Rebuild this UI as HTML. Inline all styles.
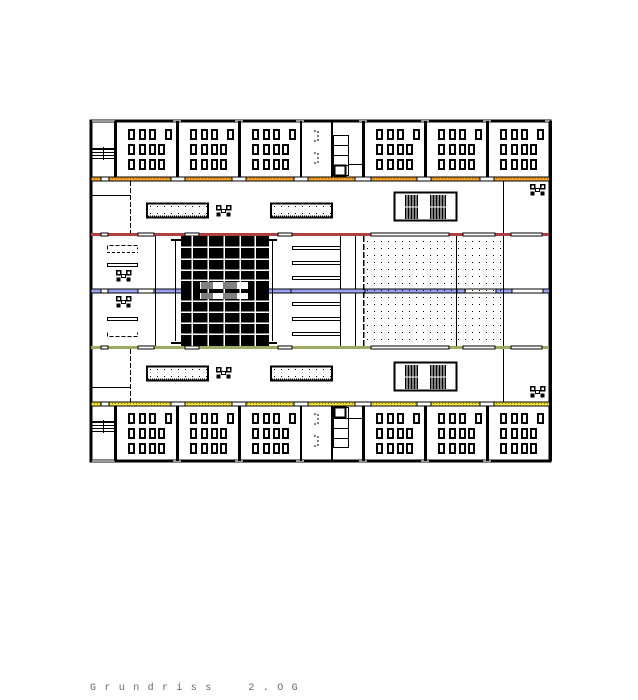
<!DOCTYPE html>
<html><head><meta charset="utf-8"><style>
html,body{margin:0;padding:0;background:#fff;width:638px;height:700px;overflow:hidden}
svg{position:absolute;left:0;top:0}
.t{position:absolute;left:90px;top:683px;font-family:"Liberation Mono",monospace;font-size:10px;color:#666;letter-spacing:8.4px;white-space:pre}
</style></head><body>
<svg width="638" height="700" viewBox="0 0 638 700" shape-rendering="crispEdges">
<defs>
<pattern id="dots" width="7" height="7" patternUnits="userSpaceOnUse"><rect x="3" y="3" width="1" height="1" fill="#000"/></pattern>
<pattern id="od" width="3" height="3" patternUnits="userSpaceOnUse"><rect width="3" height="3" fill="#f2a531"/><rect x="1" y="1" width="1" height="1" fill="#b06000"/></pattern>
<pattern id="yd" width="3" height="3" patternUnits="userSpaceOnUse"><rect width="3" height="3" fill="#f5e63a"/><rect x="1" y="1" width="1" height="1" fill="#907000"/></pattern>
<g id="desk"><rect x="1" y="1" width="5" height="9" fill="#fff" stroke="#000" stroke-width="2"/><rect x="0" y="2" width="2" height="7" fill="#000"/></g>
<g id="room">
<use href="#desk" x="12" y="8"/><use href="#desk" x="23" y="8"/><use href="#desk" x="33" y="8"/><use href="#desk" x="49" y="8"/>
<use href="#desk" x="12" y="23"/><use href="#desk" x="23" y="23"/><use href="#desk" x="33" y="23"/><use href="#desk" x="42" y="23"/>
<use href="#desk" x="12" y="38"/><use href="#desk" x="23" y="38"/><use href="#desk" x="33" y="38"/><use href="#desk" x="42" y="38"/>
</g>
<g id="chairs"><rect x="0.5" y="0.5" width="4" height="4" fill="#fff" stroke="#000" stroke-width="1.5"/><rect x="10.5" y="0.5" width="4" height="4" fill="#fff" stroke="#000" stroke-width="1.5"/><rect x="5.5" y="4.5" width="4" height="3" fill="#fff" stroke="#000"/><rect x="0.5" y="7.5" width="4" height="4" fill="#000"/><rect x="10.5" y="7.5" width="4" height="4" fill="#000"/></g>
<g id="planter"><rect x="147" y="0.5" width="61" height="14" fill="url(#dots)" stroke="#000" stroke-width="2"/><line x1="148" y1="13" x2="207" y2="13" stroke="#000" stroke-dasharray="1 1"/></g>
<g id="stair"><rect x="394.5" y="0.5" width="62" height="28" fill="#fff" stroke="#000" stroke-width="2"/><rect x="405" y="3" width="13" height="24" fill="#000"/><rect x="430" y="3" width="16" height="24" fill="#000"/>
<g stroke="#fff" stroke-width="1"><line x1="407" y1="3" x2="407" y2="27"/><line x1="410" y1="3" x2="410" y2="27"/><line x1="413" y1="3" x2="413" y2="27"/><line x1="416" y1="3" x2="416" y2="27"/><line x1="432" y1="3" x2="432" y2="27"/><line x1="435" y1="3" x2="435" y2="27"/><line x1="438" y1="3" x2="438" y2="27"/><line x1="441" y1="3" x2="441" y2="27"/><line x1="444" y1="3" x2="444" y2="27"/><line x1="405" y1="15" x2="446" y2="15"/></g></g>
</defs>

<rect x="91" y="121" width="459" height="340" fill="#fff" stroke="#000" stroke-width="3"/>
<g fill="#999"><rect x="92" y="120" width="23" height="2"/><rect x="173" y="120" width="8" height="2"/><rect x="235" y="120" width="8" height="2"/><rect x="296" y="120" width="8" height="2"/><rect x="359" y="120" width="8" height="2"/><rect x="421" y="120" width="8" height="2"/><rect x="483" y="120" width="8" height="2"/><rect x="545" y="120" width="5" height="2"/>
<rect x="92" y="460" width="23" height="2"/><rect x="173" y="460" width="8" height="2"/><rect x="235" y="460" width="8" height="2"/><rect x="296" y="460" width="8" height="2"/><rect x="359" y="460" width="8" height="2"/><rect x="421" y="460" width="8" height="2"/><rect x="483" y="460" width="8" height="2"/></g>

<g fill="#000">
<rect x="114" y="121" width="3" height="56"/><rect x="176" y="121" width="3" height="56"/><rect x="238" y="121" width="3" height="56"/><rect x="300" y="121" width="2" height="56"/><rect x="331" y="121" width="2" height="56"/><rect x="362" y="121" width="3" height="56"/><rect x="424" y="121" width="3" height="56"/><rect x="486" y="121" width="3" height="56"/>
<rect x="114" y="405" width="3" height="56"/><rect x="176" y="405" width="3" height="56"/><rect x="238" y="405" width="3" height="56"/><rect x="300" y="405" width="2" height="56"/><rect x="331" y="405" width="2" height="56"/><rect x="362" y="405" width="3" height="56"/><rect x="424" y="405" width="3" height="56"/><rect x="486" y="405" width="3" height="56"/>
</g>
<use href="#room" x="116" y="121"/><use href="#room" x="178" y="121"/><use href="#room" x="240" y="121"/><use href="#room" x="364" y="121"/><use href="#room" x="426" y="121"/><use href="#room" x="488" y="121"/>
<use href="#room" x="116" y="405"/><use href="#room" x="178" y="405"/><use href="#room" x="240" y="405"/><use href="#room" x="364" y="405"/><use href="#room" x="426" y="405"/><use href="#room" x="488" y="405"/>
<g fill="#000"><rect x="92" y="148" width="22" height="2"/><rect x="92" y="152" width="22" height="1"/><rect x="92" y="155" width="22" height="1"/><rect x="92" y="158" width="22" height="1"/><rect x="103" y="147" width="1" height="13"/>
<rect x="92" y="421" width="22" height="2"/><rect x="92" y="425" width="22" height="1"/><rect x="92" y="428" width="22" height="1"/><rect x="92" y="431" width="22" height="1"/><rect x="103" y="420" width="1" height="13"/></g>
<g fill="none" stroke="#000"><rect x="333.5" y="135.5" width="15" height="40"/><line x1="333" y1="145.5" x2="348" y2="145.5"/><line x1="333" y1="155.5" x2="348" y2="155.5"/><line x1="333" y1="165.5" x2="348" y2="165.5"/><line x1="348" y1="164.5" x2="362" y2="164.5"/>
<rect x="333.5" y="407.5" width="15" height="40"/><line x1="333" y1="418.5" x2="348" y2="418.5"/><line x1="333" y1="428.5" x2="348" y2="428.5"/><line x1="333" y1="438.5" x2="348" y2="438.5"/><line x1="348" y1="418.5" x2="362" y2="418.5"/></g>
<rect x="334.5" y="165.5" width="11" height="10" fill="#fff" stroke="#000" stroke-width="2"/><rect x="334.5" y="407.5" width="11" height="10" fill="#fff" stroke="#000" stroke-width="2"/>
<g fill="none" stroke="#000" stroke-dasharray="2 2"><path d="M314 131h4v10h-4M314 153h4v10h-4M314 414h4v10h-4M314 436h4v10h-4"/></g>

<rect x="91" y="177" width="459" height="4" fill="url(#od)" stroke="#000" stroke-width="0.6"/>
<rect x="91" y="402" width="459" height="4" fill="url(#yd)" stroke="#000" stroke-width="0.6"/>
<rect x="91" y="233" width="459" height="3" fill="#b04040"/>
<rect x="91" y="289" width="459" height="4" fill="#9aa3f0" stroke="#000" stroke-width="0.6"/>
<rect x="91" y="346" width="459" height="3" fill="#9aab62"/>
<g fill="#fff" stroke="#000" stroke-width="0.6">
<rect x="101" y="177" width="8" height="4"/><rect x="171" y="177" width="14" height="4"/><rect x="232" y="177" width="14" height="4"/><rect x="294" y="177" width="14" height="4"/><rect x="355" y="177" width="16" height="4"/><rect x="417" y="177" width="14" height="4"/><rect x="480" y="177" width="14" height="4"/>
<rect x="101" y="402" width="8" height="4"/><rect x="171" y="402" width="14" height="4"/><rect x="232" y="402" width="14" height="4"/><rect x="294" y="402" width="14" height="4"/><rect x="355" y="402" width="16" height="4"/><rect x="417" y="402" width="14" height="4"/><rect x="480" y="402" width="14" height="4"/>
<rect x="101" y="233" width="7" height="3"/><rect x="138" y="233" width="16" height="3"/><rect x="185" y="233" width="14" height="3"/><rect x="278" y="233" width="14" height="3"/><rect x="371" y="233" width="78" height="3"/><rect x="463" y="233" width="32" height="3"/><rect x="511" y="233" width="31" height="3"/>
<rect x="101" y="346" width="7" height="3"/><rect x="138" y="346" width="16" height="3"/><rect x="185" y="346" width="14" height="3"/><rect x="278" y="346" width="14" height="3"/><rect x="371" y="346" width="78" height="3"/><rect x="463" y="346" width="32" height="3"/><rect x="511" y="346" width="31" height="3"/>
<rect x="101" y="289" width="7" height="4"/><rect x="138" y="289" width="16" height="4"/><rect x="185" y="289" width="14" height="4"/><rect x="465" y="289" width="31" height="4"/><rect x="512" y="289" width="31" height="4"/>
</g>

<g stroke="#000" fill="none">
<line x1="130.5" y1="181" x2="130.5" y2="233" stroke-dasharray="5 2"/><line x1="92" y1="195.5" x2="130" y2="195.5"/>
<line x1="130.5" y1="349" x2="130.5" y2="402" stroke-dasharray="5 2"/><line x1="92" y1="387.5" x2="130" y2="387.5"/>
<line x1="503.5" y1="181" x2="503.5" y2="233"/><line x1="503.5" y1="349" x2="503.5" y2="402"/>
</g>
<use href="#planter" y="203"/><use href="#planter" x="124" y="203"/>
<use href="#planter" y="366"/><use href="#planter" x="124" y="366"/>
<use href="#chairs" x="216" y="205"/><use href="#chairs" x="216" y="367"/>
<use href="#chairs" x="530" y="184"/><use href="#chairs" x="530" y="386"/>
<use href="#stair" y="192"/><use href="#stair" y="362"/>

<g stroke="#000" fill="none">
<line x1="155.5" y1="236" x2="155.5" y2="346"/>
<line x1="340.5" y1="236" x2="340.5" y2="346"/><line x1="355.5" y1="236" x2="355.5" y2="346"/>
<line x1="503.5" y1="236" x2="503.5" y2="346"/>
<rect x="107.5" y="263.5" width="30" height="3"/><rect x="107.5" y="317.5" width="30" height="3"/>
<path d="M107.5 249.5v-4h30v4" stroke-dasharray="4 2"/><line x1="107" y1="252.5" x2="138" y2="252.5" stroke-dasharray="3 2"/>
<path d="M107.5 332.5v4h30v-4" stroke-dasharray="4 2"/>
</g>
<use href="#chairs" x="116" y="270"/>
<use href="#chairs" x="116" y="296"/>
<rect x="181" y="236" width="88" height="110" fill="#000"/>
<g stroke="#fff" stroke-width="1.5">
<line x1="192" y1="236" x2="192" y2="346"/><line x1="208" y1="236" x2="208" y2="346"/><line x1="224" y1="236" x2="224" y2="346"/><line x1="240" y1="236" x2="240" y2="346"/><line x1="255" y1="236" x2="255" y2="346"/>
<line x1="181" y1="247" x2="269" y2="247"/><line x1="181" y1="259" x2="269" y2="259"/><line x1="181" y1="270" x2="269" y2="270"/><line x1="181" y1="280" x2="269" y2="280"/>
<line x1="181" y1="301" x2="269" y2="301"/><line x1="181" y1="312" x2="269" y2="312"/><line x1="181" y1="323" x2="269" y2="323"/><line x1="181" y1="334" x2="269" y2="334"/>
</g>
<rect x="200" y="282" width="48" height="7" fill="#fff"/><rect x="200" y="293" width="48" height="6" fill="#fff"/>
<g stroke="#000"><path d="M202 282v7M204 282v7M206 282v7M208 282v7M210 282v7M212 282v7M224 282v7M226 282v7M228 282v7M230 282v7M232 282v7M234 282v7M236 282v7M202 293v6M204 293v6M206 293v6M208 293v6M210 293v6M212 293v6M224 293v6M226 293v6M228 293v6M230 293v6M232 293v6M234 293v6M236 293v6"/></g>
<g fill="#000"><rect x="171" y="239" width="10" height="2"/><rect x="175" y="241" width="1" height="100"/><rect x="171" y="342" width="10" height="2"/><rect x="269" y="239" width="8" height="2"/><rect x="272" y="241" width="1" height="100"/><rect x="269" y="342" width="8" height="2"/></g>
<g fill="#fff" stroke="#000"><rect x="292.5" y="246.5" width="48" height="3"/><rect x="292.5" y="261.5" width="48" height="3"/><rect x="292.5" y="276.5" width="48" height="3"/><rect x="292.5" y="302.5" width="48" height="3"/><rect x="292.5" y="317.5" width="48" height="3"/><rect x="292.5" y="332.5" width="48" height="3"/></g>
<rect x="363" y="236" width="140" height="110" fill="url(#dots)"/>
<rect x="291" y="289" width="74" height="4" fill="#9aa3f0" stroke="#000" stroke-width="0.6"/>
<rect x="457" y="236" width="46" height="110" fill="url(#dots)"/>
<rect x="457" y="289" width="8" height="4" fill="#9aa3f0" stroke="#000" stroke-width="0.6"/>
<g stroke="#000" fill="none"><line x1="363.5" y1="236" x2="363.5" y2="346" stroke-width="1.5" stroke-dasharray="6 2"/><line x1="456.5" y1="236" x2="456.5" y2="346"/><line x1="503.5" y1="236" x2="503.5" y2="346" stroke-dasharray="6 2"/></g>
<rect x="549" y="121" width="3" height="340" fill="#000"/>
</svg>
<div class="t">Grundriss  2.OG</div>
</body></html>
